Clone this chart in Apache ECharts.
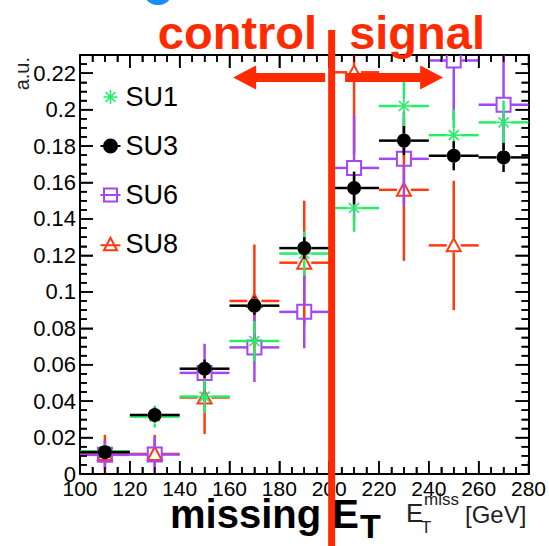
<!DOCTYPE html>
<html><head><meta charset="utf-8">
<script src="https://cdn.jsdelivr.net/npm/echarts@6/dist/echarts.min.js"></script>
<style>html,body{margin:0;padding:0;background:#fff}#c{width:549px;height:546px}</style>
</head><body><div id="c"></div>
<script>
// ---- data ----
const binCenters = [110, 130, 150, 170, 190, 210, 230, 250, 270];
const binHalfWidth = 10;
const su1 = [0.0125, 0.0315, 0.0425, 0.073, 0.121, 0.146, 0.202, 0.186, 0.193];
const su1Err = [0.003, 0.006, 0.009, 0.011, 0.012, 0.013, 0.014, 0.014, 0.012];
const su3 = [0.012, 0.0324, 0.0578, 0.0924, 0.124, 0.157, 0.183, 0.1747, 0.1738];
const su3Err = [0.002, 0.004, 0.005, 0.005, 0.006, 0.009, 0.008, 0.008, 0.008];
const su6 = [0.0105, 0.0107, 0.0555, 0.0695, 0.089, 0.168, 0.173, 0.227, 0.2027];
const su6Err = [0.008, 0.010, 0.016, 0.019, 0.020, 0.029, 0.026, 0.033, 0.028];
const su8 = [0.011, 0.011, 0.042, 0.095, 0.116, 0.2205, 0.156, 0.1255];
const su8Err = [0.0105, 0.0105, 0.020, 0.031, 0.034, 0.045, 0.039, 0.0355];
const xRange = [100, 280], xStep = 20, xMinorStep = 5;
const yRange = [0, 0.23], yStep = 0.02, yMinorStep = 0.005;
const regionBoundary = 200;

const C1 = '#22ee66', C3 = '#000000', C6 = '#a347f5', C8 = '#ff3a10', CR = '#ff2a00';
const FONT = '"Liberation Sans", Arial, Helvetica, sans-serif';

function toData(vals, errs) { return vals.map((v, i) => [binCenters[i], v, errs[i]]); }
function r6(v) { return Math.round(v * 1e6) / 1e6; }

function makeRender(marker, color) {
  const g = 7, lw = 2.5;
  return function (params, api) {
    const x = api.value(0), y = api.value(1), e = api.value(2);
    const c = api.coord([x, y]);
    const l = api.coord([x - binHalfWidth, y]), r = api.coord([x + binHalfWidth, y]);
    const t = api.coord([x, y + e]), b = api.coord([x, y - e]);
    const st = { stroke: color, lineWidth: lw };
    const ch = [];
    ch.push({ type: 'line', shape: { x1: l[0], y1: c[1], x2: c[0] - g, y2: c[1] }, style: st });
    ch.push({ type: 'line', shape: { x1: c[0] + g, y1: c[1], x2: r[0], y2: c[1] }, style: st });
    if (t[1] < c[1] - g) ch.push({ type: 'line', shape: { x1: c[0], y1: t[1], x2: c[0], y2: c[1] - g }, style: st });
    if (b[1] > c[1] + g) ch.push({ type: 'line', shape: { x1: c[0], y1: c[1] + g, x2: c[0], y2: b[1] }, style: st });
    const ms = { stroke: color, lineWidth: 2, fill: 'none' };
    if (marker === 'circle') {
      ch.push({ type: 'circle', shape: { cx: c[0], cy: c[1], r: 7 }, style: { fill: color } });
    } else if (marker === 'square') {
      ch.push({ type: 'rect', shape: { x: c[0] - 7, y: c[1] - 7, width: 14, height: 14 }, style: ms });
    } else if (marker === 'triangle') {
      ch.push({ type: 'polygon', shape: { points: [[c[0], c[1] - 7], [c[0] + 7, c[1] + 6], [c[0] - 7, c[1] + 6]] }, style: ms });
    } else {
      const a = 7, d = 5;
      const ss = { stroke: color, lineWidth: 1.6 };
      ch.push({ type: 'line', shape: { x1: c[0] - a, y1: c[1], x2: c[0] + a, y2: c[1] }, style: ss });
      ch.push({ type: 'line', shape: { x1: c[0], y1: c[1] - a, x2: c[0], y2: c[1] + a }, style: ss });
      ch.push({ type: 'line', shape: { x1: c[0] - d, y1: c[1] - d, x2: c[0] + d, y2: c[1] + d }, style: ss });
      ch.push({ type: 'line', shape: { x1: c[0] - d, y1: c[1] + d, x2: c[0] + d, y2: c[1] - d }, style: ss });
    }
    return { type: 'group', children: ch };
  };
}

function series(name, marker, color, vals, errs) {
  return {
    name, type: 'custom', clip: true, coordinateSystem: 'cartesian2d',
    xAxisIndex: 0, yAxisIndex: 0,
    itemStyle: { color },
    encode: { x: 0, y: 1 },
    renderItem: makeRender(marker, color),
    data: toData(vals, errs)
  };
}

function axisCommon(range, step, pos, labels) {
  return {
    type: 'value', min: range[0], max: range[1], interval: step, position: pos,
    axisLine: { show: true, onZero: false, lineStyle: { color: '#000', width: 2 } },
    axisTick: { show: true, inside: true, length: 13, lineStyle: { color: '#000', width: 1.5 } },
    minorTick: { show: true, splitNumber: 4, length: 7, lineStyle: { color: '#000', width: 1.5 } },
    splitLine: { show: false },
    minorSplitLine: { show: false },
    axisLabel: labels
  };
}

function baseOption() {
  return {
    animation: false,
    backgroundColor: '#fff',
    grid: { left: 80, right: 20.5, top: 55, bottom: 72 },
    xAxis: [
      axisCommon(xRange, xStep, 'bottom', { show: true, fontSize: 21, color: '#000', fontFamily: FONT, margin: 4 }),
      axisCommon(xRange, xStep, 'top', { show: false })
    ],
    yAxis: [
      axisCommon(yRange, yStep, 'left', { show: true, fontSize: 22, color: '#000', fontFamily: FONT, margin: 4, showMaxLabel: false }),
      axisCommon(yRange, yStep, 'right', { show: false })
    ],
    legend: {
      orient: 'vertical', left: 98, top: 82, padding: 0, itemWidth: 20, itemHeight: 14, itemGap: 19,
      selectedMode: false,
      textStyle: { fontSize: 27, fontFamily: FONT, color: '#000', lineHeight: 30 },
      data: [
        { name: 'SU1', icon: 'path://M0,7 L14,7 M7,0 L7,14 M2,2 L12,12 M12,2 L2,12', itemStyle: { color: 'none', borderColor: C1, borderWidth: 1.6 } },
        { name: 'SU3', icon: 'path://M0,7 L20,7 M16.5,7 A6.5,6.5 0 1 1 3.5,7 A6.5,6.5 0 1 1 16.5,7 Z', itemStyle: { color: C3, borderColor: C3, borderWidth: 2 } },
        { name: 'SU6', icon: 'path://M0,7 L20,7 M3.5,0.5 L16.5,0.5 L16.5,13.5 L3.5,13.5 Z', itemStyle: { color: 'none', borderColor: C6, borderWidth: 2 } },
        { name: 'SU8', icon: 'path://M0,8 L20,8 M10,0.5 L16.5,13 L3.5,13 Z', itemStyle: { color: 'none', borderColor: C8, borderWidth: 2 } }
      ]
    },
    series: [
      series('SU8', 'triangle', C8, su8, su8Err),
      series('SU6', 'square', C6, su6, su6Err),
      series('SU1', 'star', C1, su1, su1Err),
      series('SU3', 'circle', C3, su3, su3Err)
    ]
  };
}

// tick marks on all four frame sides, placed through the chart's own scales
function frameTicks(ch) {
  const px = v => ch.convertToPixel({ xAxisIndex: 0 }, v);
  const py = v => ch.convertToPixel({ yAxisIndex: 0 }, v);
  const xl = px(xRange[0]), xr = px(xRange[1]), yb = py(yRange[0]), yt = py(yRange[1]);
  const st = { stroke: '#000', lineWidth: 1.5 };
  const out = [];
  const perX = Math.round(xStep / xMinorStep);
  for (let k = 0; xRange[0] + k * xMinorStep <= xRange[1] + 1e-9; k++) {
    const v = r6(xRange[0] + k * xMinorStep), L = (k % perX === 0) ? 13 : 7, x = px(v);
    out.push({ type: 'line', z: 90, silent: true, shape: { x1: x, y1: yb, x2: x, y2: yb - L }, style: st });
    out.push({ type: 'line', z: 90, silent: true, shape: { x1: x, y1: yt, x2: x, y2: yt + L }, style: st });
  }
  const perY = Math.round(yStep / yMinorStep);
  for (let k = 0; yRange[0] + k * yMinorStep < yRange[1] - 1e-9; k++) {
    const v = r6(yRange[0] + k * yMinorStep), L = (k % perY === 0) ? 13 : 7, y = py(v);
    out.push({ type: 'line', z: 90, silent: true, shape: { x1: xl, y1: y, x2: xl + L, y2: y }, style: st });
    out.push({ type: 'line', z: 90, silent: true, shape: { x1: xr, y1: y, x2: xr - L, y2: y }, style: st });
  }
  return out;
}

function annotations(xb) {
  const ay = 77.5;
  return [
    { type: 'ellipse', shape: { cx: 158, cy: -3, rx: 12, ry: 8 }, style: { fill: '#1a8cff' } },
    { type: 'rect', shape: { x: xb - 1, y: 30, width: 7, height: 520 }, style: { fill: CR }, z: 100 },
    { type: 'polygon', z: 100, style: { fill: CR }, shape: { points: [
      [xb - 96, ay], [xb - 73, ay - 12], [xb - 73, ay - 4.5], [xb - 4, ay - 4.5], [xb - 4, ay + 4.5], [xb - 73, ay + 4.5], [xb - 73, ay + 12]] } },
    { type: 'polygon', z: 100, style: { fill: CR }, shape: { points: [
      [xb + 114, ay], [xb + 91, ay - 12], [xb + 91, ay - 4.5], [xb + 16, ay - 4.5], [xb + 16, ay + 4.5], [xb + 91, ay + 4.5], [xb + 91, ay + 12]] } },
    { type: 'text', z: 100, style: { x: xb - 12, y: 32, text: 'control', align: 'right', verticalAlign: 'middle', font: 'bold 47px ' + FONT, fill: CR } },
    { type: 'text', z: 100, style: { x: xb + 20, y: 32, text: 'signal', align: 'left', verticalAlign: 'middle', font: 'bold 47px ' + FONT, fill: CR } },
    { type: 'text', z: 100, style: { x: 170, y: 514, text: 'missing E', align: 'left', verticalAlign: 'middle', font: 'bold 40px ' + FONT, fill: '#000' } },
    { type: 'text', z: 100, style: { x: 360, y: 526, text: 'T', align: 'left', verticalAlign: 'middle', font: 'bold 34px ' + FONT, fill: '#000' } },
    { type: 'text', z: 100, style: { x: 406, y: 513, text: 'E', align: 'left', verticalAlign: 'middle', font: '26px ' + FONT, fill: '#222' } },
    { type: 'text', z: 100, style: { x: 421, y: 527, text: 'T', align: 'left', verticalAlign: 'middle', font: '17px ' + FONT, fill: '#222' } },
    { type: 'text', z: 100, style: { x: 424, y: 499, text: 'miss', align: 'left', verticalAlign: 'middle', font: '17px ' + FONT, fill: '#222' } },
    { type: 'text', z: 100, style: { x: 465, y: 514, text: '[GeV]', align: 'left', verticalAlign: 'middle', font: '24px ' + FONT, fill: '#222' } },
    { type: 'text', z: 100, rotation: Math.PI / 2, x: 22, y: 57, style: { x: 0, y: 0, text: 'a.u.', align: 'right', verticalAlign: 'middle', font: '20px ' + FONT, fill: '#222' } }
  ];
}

const el = document.getElementById('c');
let chart = echarts.init(el, null, { renderer: 'svg' });
chart.setOption(baseOption());
const xb = chart.convertToPixel({ xAxisIndex: 0 }, regionBoundary);
const ticks = frameTicks(chart);
chart.dispose();
chart = echarts.init(el, null, { renderer: 'svg' });
const opt = baseOption();
opt.graphic = ticks.concat(annotations(xb));
chart.setOption(opt);
</script>
</body></html>
